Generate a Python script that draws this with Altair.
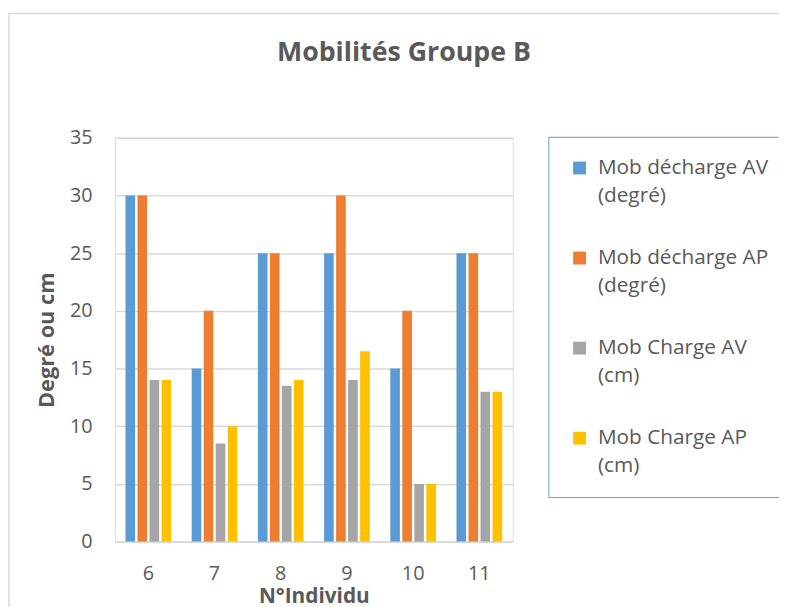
import altair as alt
import pandas as pd

individus = ["6", "7", "8", "9", "10", "11"]
series = [
    "Mob décharge AV (degré)",
    "Mob décharge AP (degré)",
    "Mob Charge AV (cm)",
    "Mob Charge AP (cm)",
]
mob_decharge_av = [30, 15, 25, 25, 15, 25]
mob_decharge_ap = [30, 20, 25, 30, 20, 25]
mob_charge_av = [14, 8.5, 13.5, 14, 5, 13]
mob_charge_ap = [14, 10, 14, 16.5, 5, 13]
colors = ["#5B9BD5", "#ED7D31", "#A5A5A5", "#FFC000"]
y_ticks = [0, 5, 10, 15, 20, 25, 30, 35]

rows = []
for s, vals in zip(series, [mob_decharge_av, mob_decharge_ap, mob_charge_av, mob_charge_ap]):
    for i, v in zip(individus, vals):
        rows.append({"ind": i, "serie": s, "val": v})
df = pd.DataFrame(rows)

FONT = "Open Sans"
TXT = "#595959"

label_expr = ("[slice(datum.label, 0, indexof(datum.label, ' (')), "
              "slice(datum.label, indexof(datum.label, ' (') + 1)]")

bars = alt.Chart(df).mark_bar().encode(
    x=alt.X("ind:N", sort=individus,
            scale=alt.Scale(paddingInner=0.31, paddingOuter=0.16),
            axis=alt.Axis(title="N°Individu", labelAngle=0, labelFontSize=20,
                          labelFont=FONT, labelColor=TXT, labelPadding=22,
                          ticks=False, domainColor="#D9D9D9", domainWidth=1.5,
                          titleFont=FONT, titleFontSize=21, titleFontWeight="bold",
                          titleColor=TXT, titlePadding=3)),
    xOffset=alt.XOffset("serie:N", sort=series, scale=alt.Scale(paddingInner=0.2)),
    y=alt.Y("val:Q", scale=alt.Scale(domain=[0, 35], nice=False),
            axis=alt.Axis(title="Degré ou cm", values=y_ticks, labelFontSize=20,
                          labelFont=FONT, labelColor=TXT, labelPadding=23,
                          ticks=False, domain=False, gridColor="#D9D9D9",
                          gridWidth=1.5,
                          titleFont=FONT, titleFontSize=22, titleFontWeight="bold",
                          titleColor=TXT, titlePadding=11)),
    color=alt.Color("serie:N", sort=series,
                    scale=alt.Scale(domain=series, range=colors),
                    legend=alt.Legend(title=None, orient="none", legendX=438, legendY=-1,
                                      symbolType="square", symbolSize=169,
                                      symbolStrokeWidth=0, labelFontSize=21,
                                      labelFont=FONT, labelColor=TXT, labelLimit=400,
                                      labelOffset=8, labelExpr=label_expr,
                                      padding=21, rowPadding=41,
                                      strokeColor="#5B9BD5", fillColor="white")),
)

frame = alt.Chart(pd.DataFrame({"k": [0]})).mark_rect(
    fill=None, stroke="#D9D9D9", strokeWidth=1.5, clip=False
).encode(
    x=alt.value(-107), x2=alt.value(700), y=alt.value(-125.5), y2=alt.value(520)
)

chart = alt.layer(frame, bars).properties(
    width=402,
    height=408,
    title=alt.TitleParams("Mobilités Groupe B", font=FONT, fontSize=27,
                          fontWeight="bold", color=TXT, anchor="middle",
                          baseline="alphabetic",
                          frame="group", dx=91, offset=0, dy=76),
    autosize=alt.AutoSizeParams(type="none"),
    padding={"left": 108, "top": 128, "right": 269, "bottom": 71},
).configure_view(stroke=None).configure(
    style={"guide-label": {"lineHeight": 28}}
)

chart.save("out.html", embed_options={"renderer": "svg", "actions": False})
